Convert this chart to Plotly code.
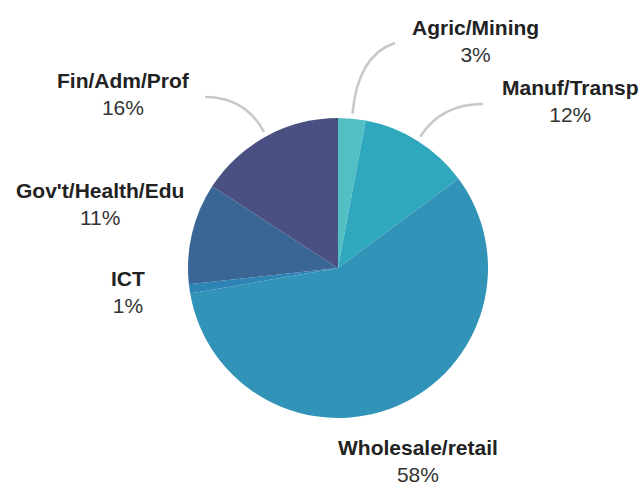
import math
import plotly.graph_objects as go

sectors = ["Agric/Mining", "Manuf/Transp", "Wholesale/retail", "ICT",
           "Gov't/Health/Edu", "Fin/Adm/Prof"]
shares = [3, 12, 58, 1, 11, 16]
colors = ["#52bfc4", "#2fa8bd", "#3193b8", "#2d84b5", "#3a6696", "#4a5081"]

# label placement (pixel centre of the two-line label) and leader line ends
label_pos = {
    "Agric/Mining": (475, 41),
    "Manuf/Transp": (570, 101),
    "Wholesale/retail": (418, 461),
    "ICT": (128, 292),
    "Gov't/Health/Edu": (100, 204),
    "Fin/Adm/Prof": (123, 94),
}
leader_end = {
    "Agric/Mining": (395, 43),
    "Manuf/Transp": (483, 104),
    "Fin/Adm/Prof": (205, 97),
}

W, H = 643, 485
cx, cy, r = 338, 268, 150

fig = go.Figure()
fig.add_trace(go.Pie(
    labels=sectors, values=shares, sort=False, direction="clockwise", rotation=0,
    marker=dict(colors=colors, line=dict(width=0)),
    textinfo="none", hoverinfo="label+value",
    domain=dict(x=[(cx - r) / W, (cx + r) / W], y=[1 - (cy + r) / H, 1 - (cy - r) / H]),
    showlegend=False,
))

total = sum(shares)
cum = 0
shapes = []
annotations = []
for name, v in zip(sectors, shares):
    mid = (cum + v / 2) / total * 2 * math.pi
    cum += v
    lx, ly = label_pos[name]
    annotations.append(dict(
        x=lx / W, y=1 - ly / H, xref="paper", yref="paper", showarrow=False,
        text=f"<b>{name}</b><br><span style='color:#333'>{v}%</span>",
        font=dict(family="Liberation Sans, Arial, sans-serif", size=21, color="#222"),
        align="center", xanchor="center", yanchor="middle",
    ))
    if name in leader_end:
        sx = cx + 155 * math.sin(mid)
        sy = cy - 155 * math.cos(mid)
        ex, ey = leader_end[name]
        ty = ey + (12 if abs(math.sin(mid)) < 0.2 else 0)
        t = (sy - ty) / math.cos(mid)
        qx, qy = sx + t * math.sin(mid), ty
        p = lambda x, y: f"{x / W:.5f},{1 - y / H:.5f}"
        shapes.append(dict(
            type="path", xref="paper", yref="paper",
            path=f"M {p(sx, sy)} Q {p(qx, qy)} {p(ex, ey)}",
            line=dict(color="#c8c8c8", width=2.5),
        ))

fig.update_layout(
    width=W, height=H, margin=dict(l=0, r=0, t=0, b=0),
    paper_bgcolor="white", plot_bgcolor="white",
    shapes=shapes, annotations=annotations,
)
fig.write_html("out.html", config={"displayModeBar": False},
               post_script="document.body.style.margin='0';")
